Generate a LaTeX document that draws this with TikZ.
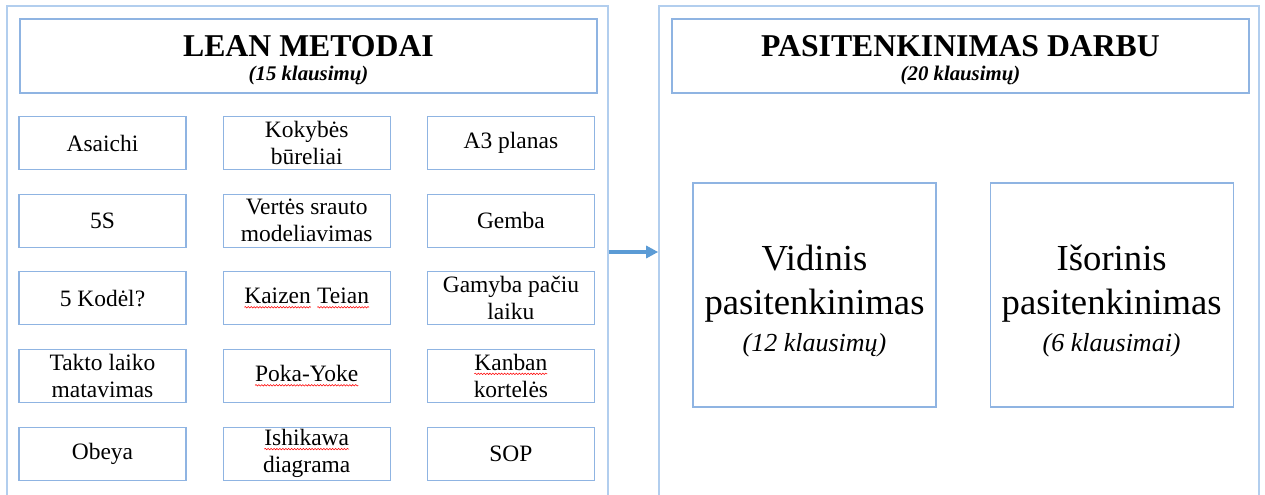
\documentclass[tikz,border=0pt]{standalone}
\usepackage{fontspec}
\setmainfont{Liberation Serif}
\definecolor{boxBlue}{RGB}{143,180,226}
\definecolor{frameBlue}{RGB}{178,206,238}
\definecolor{arrowBlue}{RGB}{91,155,213}
\usetikzlibrary{arrows.meta, positioning, decorations.pathmorphing}
\tikzset{spellline/.style={red, line width=0.4pt, decorate,
                           decoration={snake, amplitude=0.55pt, segment length=2.2pt}}}
\newcommand{\spellmark}[1]{\tikz[baseline=(word.base), x=1pt, y=1pt]{%
  \node[draw=none, inner sep=0pt, outer sep=0pt, minimum width=0pt, minimum height=0pt,
        anchor=base] (word) {#1};
  \draw[spellline] ([yshift=-2.5pt]word.base west) -- ([yshift=-2.5pt]word.base east);}}

\begin{document}
\begin{tikzpicture}[x=0.75pt, y=-0.75pt,
  >={Triangle[length=9pt, width=9pt]}, node distance={17.6pt and 27pt},
  frame/.style={draw=frameBlue, line width=1.2pt, minimum width=450.75pt,
                minimum height=369pt, inner sep=0pt},
  header/.style={draw=boxBlue, line width=0.9pt, minimum width=432.75pt, minimum height=55.5pt,
                 inner sep=0pt, align=center, font=\fontsize{15.6}{18}\selectfont},
  method/.style={draw=boxBlue, line width=0.9pt, minimum width=125.25pt, minimum height=39.75pt,
                 inner sep=0pt, align=center, font=\fontsize{17.6}{20.25}\selectfont},
  part/.style={draw=boxBlue, line width=0.9pt, minimum width=182.25pt, minimum height=168pt,
               inner sep=0pt, align=center, font=\fontsize{27.5}{32.8}\selectfont},
  flow/.style={->, line width=2.6pt, arrowBlue}]
  \useasboundingbox (0,0) rectangle (1265,495);
  % outer frames
  \node[frame] (leanbox) at (307.5,252) {};
  \node[frame, minimum width=450pt] (satbox) at (959,252) {};
  % lean methods
  \node[header] (leantitle) at (308.5,56)
    {{\fontsize{23.8}{18}\selectfont\bfseries\rule{0pt}{22pt}LEAN METODAI}\\\bfseries\itshape (15 klausimų)};
  \node[method] (asaichi) at (102.5,143) {Asaichi};
  \node[method, right=of asaichi] (kokybe) {Kokybės\\būreliai};
  \node[method, right=of kokybe] (planas) {A3 planas};
  \node[method, below=of asaichi] (fives) {5S};
  \node[method, right=of fives] (srautas) {Vertės srauto\\modeliavimas};
  \node[method, right=of srautas] (gemba) {Gemba};
  \node[method, below=of fives] (kodel) {5 Kodėl?};
  \node[method, right=of kodel] (kaizen) {\spellmark{Kaizen} \spellmark{Teian}};
  \node[method, right=of kaizen] (jit) {Gamyba pačiu\\laiku};
  \node[method, below=of kodel] (takt) {Takto laiko\\matavimas};
  \node[method, right=of takt] (pokayoke) {\spellmark{Poka-Yoke}};
  \node[method, right=of pokayoke] (kanban) {\spellmark{Kanban}\\kortelės};
  \node[method, below=of takt] (obeya) {Obeya};
  \node[method, right=of obeya] (ishikawa) {\spellmark{Ishikawa}\\diagrama};
  \node[method, right=of ishikawa] (sop) {SOP};
  % job satisfaction
  \node[header] (sattitle) at (960.5,56)
    {{\fontsize{23.8}{18}\selectfont\bfseries\rule{0pt}{22pt}PASITENKINIMAS DARBU}\\\bfseries\itshape (20 klausimų)};
  \node[part] (vidinis) at (814.5,295)
    {\rule{0pt}{28pt}Vidinis\\pasitenkinimas\\[-4.8pt]{\fontsize{19.5}{23}\selectfont\itshape (12 klausimų)}};
  \node[part, right=39.75pt of vidinis] (isorinis)
    {\rule{0pt}{28pt}Išorinis\\pasitenkinimas\\[-4.8pt]{\fontsize{19.5}{23}\selectfont\itshape (6 klausimai)}};
  \draw[flow] (leanbox) -- (satbox);
\end{tikzpicture}
\end{document}
